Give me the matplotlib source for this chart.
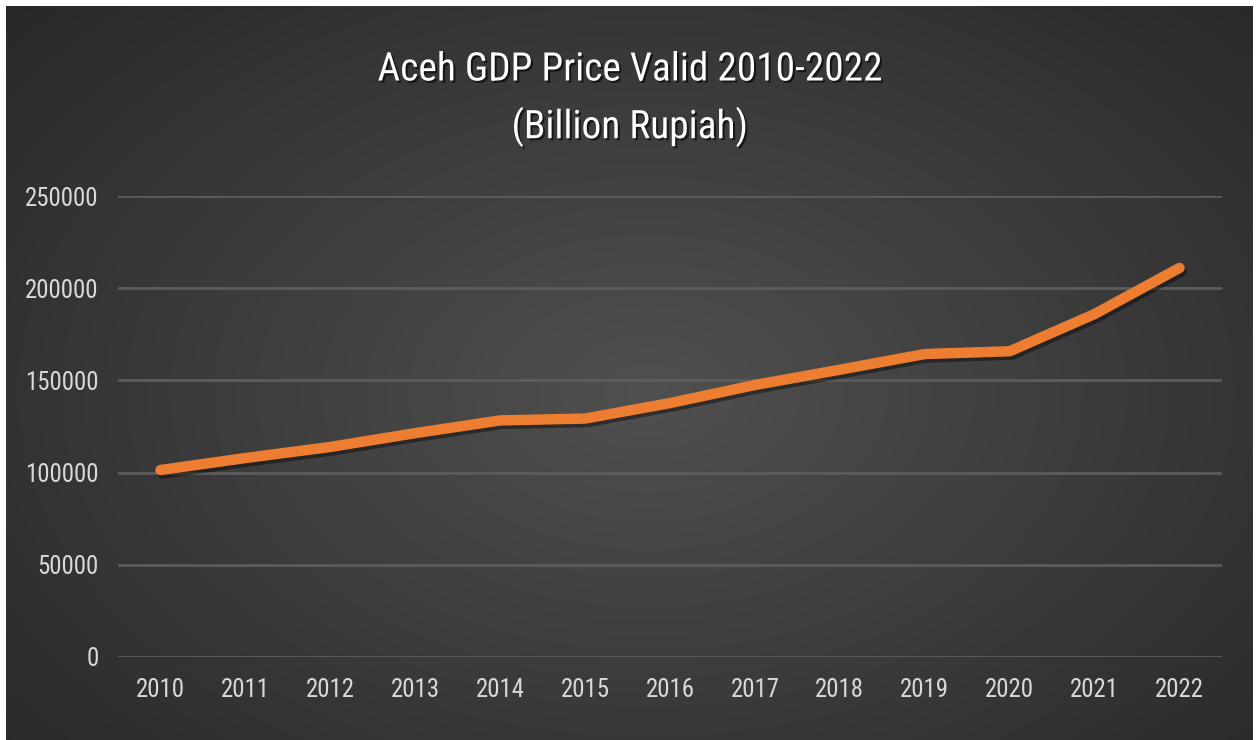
import numpy as np
import matplotlib
matplotlib.use("Agg")
import matplotlib.pyplot as plt
import matplotlib.patheffects as pe
from matplotlib import font_manager

years = ["2010", "2011", "2012", "2013", "2014", "2015", "2016",
         "2017", "2018", "2019", "2020", "2021", "2022"]
gdp = [101400, 107900, 113900, 121400, 128300, 129300, 137700,
       147500, 155800, 164300, 165800, 186000, 211000]
yticks = [0, 50000, 100000, 150000, 200000, 250000]
title_line1 = "Aceh GDP Price Valid 2010-2022"
title_line2 = "(Billion Rupiah)"

avail = {f.name for f in font_manager.fontManager.ttflist}
fam = "DejaVu Sans"
for cand in ["Liberation Sans Narrow", "Roboto Condensed", "Open Sans Condensed", "Roboto"]:
    if cand in avail:
        fam = cand
        break
plt.rcParams['font.family'] = [fam, 'DejaVu Sans']

W, H = 1259, 740
fig = plt.figure(figsize=(W / 100, H / 100), dpi=100)
fig.patch.set_facecolor("white")

# background with radial gradient (dark frame, white border)
bg = fig.add_axes([6 / W, 0, (W - 12) / W, (H - 6) / H])
bg.set_axis_off()
yy, xx = np.mgrid[0:400, 0:700]
cx, cy = 360, 210
r = np.sqrt(((xx - cx) / 500.0) ** 2 + ((yy - cy) / 320.0) ** 2)
r = np.clip(r, 0, 1)
inner = np.array([0x50, 0x50, 0x50]) / 255.0
outer = np.array([0x27, 0x27, 0x27]) / 255.0
img = inner[None, None, :] * (1 - r[..., None]) + outer[None, None, :] * r[..., None]
bg.imshow(img, aspect="auto", extent=[0, 1, 0, 1], interpolation="bilinear")
bg.set_xlim(0, 1)
bg.set_ylim(0, 1)

ax = fig.add_axes([118 / W, (H - 657) / H, 1104 / W, 461 / H])
ax.patch.set_alpha(0)
x = np.arange(len(years))
ax.plot(x, gdp, color="#ED7D31", lw=7.5, solid_capstyle="round",
        solid_joinstyle="round", zorder=3,
        path_effects=[pe.SimpleLineShadow(offset=(1.5, -2.5), shadow_color="black", alpha=0.4),
                      pe.Normal()])
ax.set_xlim(-0.5, len(years) - 0.5)
ax.set_ylim(0, 250000)
ax.set_yticks(yticks)
ax.set_yticklabels([str(v) for v in yticks])
ax.set_xticks(x)
ax.set_xticklabels(years)
for s in ax.spines.values():
    s.set_visible(False)
ax.tick_params(axis="both", length=0, labelcolor="#d9d9d9")
ax.tick_params(axis="y", pad=14)
ax.tick_params(axis="x", pad=15)
ax.yaxis.grid(True, color="#5c5c5c", lw=2)
ax.set_axisbelow(True)

shadow = [pe.withSimplePatchShadow(offset=(1.5, -1.5), shadow_rgbFace="black", alpha=0.6)]
t1 = fig.text(630 / W, 1 - 70 / H, title_line1, ha="center", va="center",
              fontsize=24, color="white", path_effects=shadow)
t2 = fig.text(630 / W, 1 - 127 / H, title_line2, ha="center", va="center",
              fontsize=24, color="white", path_effects=shadow)

# fit font sizes to reference widths
renderer = fig.canvas.get_renderer()
def fit(txt, target_px, base):
    txt.set_fontsize(base)
    w = txt.get_window_extent(renderer).width
    return base * target_px / w

title_size = fit(t1, 505, 24)
t1.set_fontsize(title_size)
t2.set_fontsize(title_size)

probe = fig.text(0, 0, "250000", fontsize=16)
tick_size = min(fit(probe, 74, 16), 20)
probe.remove()
ax.tick_params(axis="both", labelsize=tick_size)

fig.savefig("out.png", dpi=100, facecolor=fig.get_facecolor())
